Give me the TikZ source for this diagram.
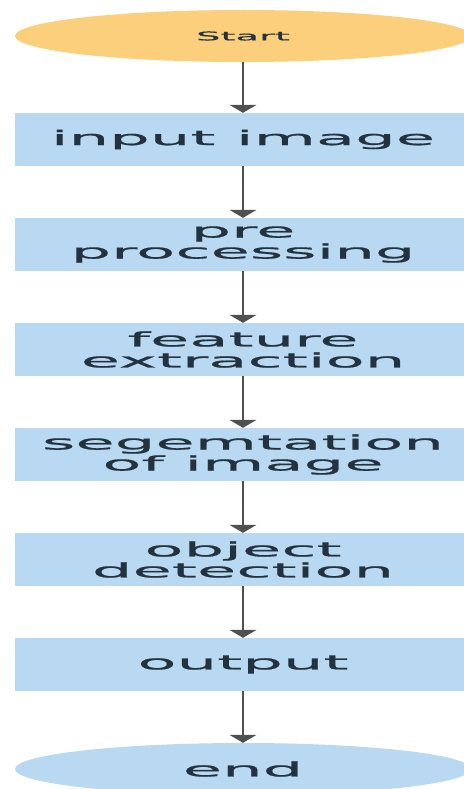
\documentclass[tikz,border=0pt]{standalone}
\usepackage{fontspec}
\usetikzlibrary{shapes.geometric,arrows.meta}
\newfontfamily\flowfont[FakeStretch=3.2,FakeBold=0.8]{DejaVu Sans}
\definecolor{startorange}{RGB}{251,207,124}
\definecolor{stepblue}{RGB}{184,217,241}
\definecolor{textdark}{RGB}{35,50,62}
\definecolor{arrowgray}{RGB}{80,80,80}

\begin{document}
\begin{tikzpicture}[x=1pt,y=-1pt,
        every node/.style={minimum width=456pt, minimum height=53pt, inner sep=0pt, align=center, text=textdark, font=\flowfont\fontsize{20}{21}\selectfont},
        stepbox/.style={fill=stepblue},
        terminal/.style={ellipse, minimum height=52pt},
        flow/.style={draw=arrowgray, line width=1.5pt, -{Triangle[width=27pt,length=8pt]}}
      ]
        \useasboundingbox (0,0) rectangle (463,789);
        \node[terminal, fill=startorange, font=\flowfont\fontsize{12}{14}\selectfont] (start) at (243,36) {Start};
        \node[stepbox] (input) at (243,139.5) {input image};
        \node[stepbox] (pre) at (243,244.5) {pre\\processing};
        \node[stepbox] (feature) at (243,349.5) {feature\\extraction};
        \node[stepbox] (segment) at (243,454.5) {segemtation\\of image};
        \node[stepbox] (detect) at (243,559.5) {object\\detection};
        \node[stepbox] (output) at (243,664.5) {output};
        \node[terminal, fill=stepblue] (end) at (243,769) {end};
        \draw[flow] (start) -- (input);
        \draw[flow] (input) -- (pre);
        \draw[flow] (pre) -- (feature);
        \draw[flow] (feature) -- (segment);
        \draw[flow] (segment) -- (detect);
        \draw[flow] (detect) -- (output);
        \draw[flow] (output) -- (end);
      \end{tikzpicture}
\end{document}
